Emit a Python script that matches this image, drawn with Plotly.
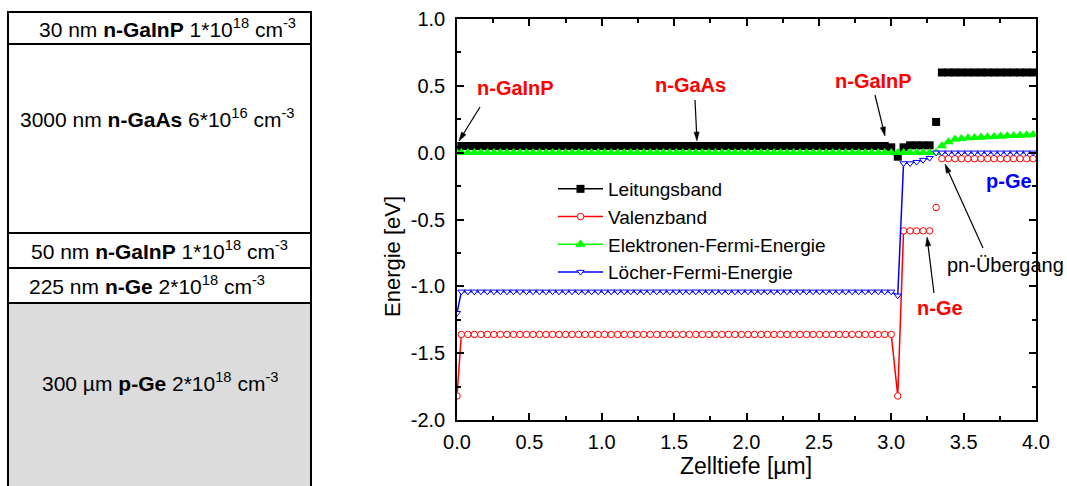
import math
import plotly.graph_objects as go

# ---------------- data ----------------
# depth positions [µm] of the plotted symbols, per layer
depth_front = [0.0]
depth_gaas = [0.03, 0.075, 0.12, 0.165, 0.21, 0.255, 0.3, 0.345, 0.39, 0.435,
              0.48, 0.525, 0.57, 0.615, 0.66, 0.705, 0.75, 0.795, 0.84, 0.885,
              0.93, 0.975, 1.02, 1.065, 1.11, 1.155, 1.2, 1.245, 1.29, 1.335,
              1.38, 1.425, 1.47, 1.515, 1.56, 1.605, 1.65, 1.695, 1.74, 1.785,
              1.83, 1.875, 1.92, 1.965, 2.01, 2.055, 2.1, 2.145, 2.19, 2.235,
              2.28, 2.325, 2.37, 2.415, 2.46, 2.505, 2.55, 2.595, 2.64, 2.685,
              2.73, 2.775, 2.82, 2.865, 2.91, 2.955, 3.0]
depth_window = [3.045]
depth_nge = [3.085, 3.13, 3.175, 3.22, 3.265]
depth_junction = [3.31]
depth_pge = [3.35, 3.395, 3.44, 3.485, 3.53, 3.575, 3.62, 3.665, 3.71, 3.755,
             3.8, 3.845, 3.89, 3.935, 3.98]

# Leitungsband [eV]
ec_front = [0.02]
ec_gaas = [0.05, 0.05, 0.05, 0.05, 0.05, 0.05, 0.05, 0.05, 0.05, 0.05,
           0.05, 0.05, 0.05, 0.05, 0.05, 0.05, 0.05, 0.05, 0.05, 0.05,
           0.05, 0.05, 0.05, 0.05, 0.05, 0.05, 0.05, 0.05, 0.05, 0.05,
           0.05, 0.05, 0.05, 0.05, 0.05, 0.05, 0.05, 0.05, 0.05, 0.05,
           0.05, 0.05, 0.05, 0.05, 0.05, 0.05, 0.05, 0.05, 0.05, 0.05,
           0.05, 0.05, 0.05, 0.05, 0.05, 0.05, 0.05, 0.05, 0.05, 0.05,
           0.05, 0.05, 0.05, 0.05, 0.05, 0.05, 0.04]
ec_window = [-0.03]
ec_nge = [0.04, 0.055, 0.055, 0.055, 0.055]
ec_junction = [0.23]
ec_pge = [0.6, 0.6, 0.6, 0.6, 0.6, 0.6, 0.6, 0.6, 0.6, 0.6,
          0.6, 0.6, 0.6, 0.6, 0.6]

# Valenzband [eV]
ev_front = [-1.82]
ev_gaas = [-1.36, -1.36, -1.36, -1.36, -1.36, -1.36, -1.36, -1.36, -1.36, -1.36,
           -1.36, -1.36, -1.36, -1.36, -1.36, -1.36, -1.36, -1.36, -1.36, -1.36,
           -1.36, -1.36, -1.36, -1.36, -1.36, -1.36, -1.36, -1.36, -1.36, -1.36,
           -1.36, -1.36, -1.36, -1.36, -1.36, -1.36, -1.36, -1.36, -1.36, -1.36,
           -1.36, -1.36, -1.36, -1.36, -1.36, -1.36, -1.36, -1.36, -1.36, -1.36,
           -1.36, -1.36, -1.36, -1.36, -1.36, -1.36, -1.36, -1.36, -1.36, -1.36,
           -1.36, -1.36, -1.36, -1.36, -1.36, -1.36, -1.36]
ev_window = [-1.82]
ev_nge = [-0.585, -0.585, -0.585, -0.585, -0.585]
ev_junction = [-0.41]
ev_pge = [-0.045, -0.045, -0.045, -0.045, -0.045, -0.045, -0.045, -0.045,
          -0.045, -0.045, -0.045, -0.045, -0.045, -0.045, -0.045]

# Elektronen-Fermi-Energie [eV]
efn_front = [0.0]
efn_gaas = [0.0, 0.0, 0.0, 0.0, 0.0, 0.0, 0.0, 0.0, 0.0, 0.0,
            0.0, 0.0, 0.0, 0.0, 0.0, 0.0, 0.0, 0.0, 0.0, 0.0,
            0.0, 0.0, 0.0, 0.0, 0.0, 0.0, 0.0, 0.0, 0.0, 0.0,
            0.0, 0.0, 0.0, 0.0, 0.0, 0.0, 0.0, 0.0, 0.0, 0.0,
            0.0, 0.0, 0.0, 0.0, 0.0, 0.0, 0.0, 0.0, 0.0, 0.0,
            0.0, 0.0, 0.0, 0.0, 0.0, 0.0, 0.0, 0.0, 0.0, 0.0,
            0.0, 0.0, 0.0, 0.0, 0.0, 0.0, 0.0]
efn_window = [0.0]
efn_nge = [0.0, 0.0, 0.0, 0.0, 0.0]
efn_junction = [0.0]
efn_pge = [0.05, 0.08, 0.1, 0.105, 0.11, 0.112, 0.115, 0.118, 0.12, 0.122,
           0.125, 0.127, 0.13, 0.132, 0.135]

# Löcher-Fermi-Energie [eV]
efp_front = [-1.2]
efp_gaas = [-1.04, -1.04, -1.04, -1.04, -1.04, -1.04, -1.04, -1.04, -1.04, -1.04,
            -1.04, -1.04, -1.04, -1.04, -1.04, -1.04, -1.04, -1.04, -1.04, -1.04,
            -1.04, -1.04, -1.04, -1.04, -1.04, -1.04, -1.04, -1.04, -1.04, -1.04,
            -1.04, -1.04, -1.04, -1.04, -1.04, -1.04, -1.04, -1.04, -1.04, -1.04,
            -1.04, -1.04, -1.04, -1.04, -1.04, -1.04, -1.04, -1.04, -1.04, -1.04,
            -1.04, -1.04, -1.04, -1.04, -1.04, -1.04, -1.04, -1.04, -1.04, -1.04,
            -1.04, -1.04, -1.04, -1.04, -1.04, -1.04, -1.04]
efp_window = [-1.07]
efp_nge = [-0.08, -0.08, -0.07, -0.055, -0.04]
efp_junction = [0.0]
efp_pge = [0.0, 0.0, 0.0, 0.0, 0.0, 0.0, 0.0, 0.0, 0.0, 0.0,
           0.0, 0.0, 0.0, 0.0, 0.0]

series_names = ["Leitungsband", "Valenzband",
                "Elektronen-Fermi-Energie", "Löcher-Fermi-Energie"]

x_ticks = [0.0, 0.5, 1.0, 1.5, 2.0, 2.5, 3.0, 3.5, 4.0]
y_ticks = [-2.0, -1.5, -1.0, -0.5, 0.0, 0.5, 1.0]

layer_rows = [
    "30 nm <b>n-GaInP</b> 1*10<sup>18</sup> cm<sup>-3</sup>",
    "3000 nm <b>n-GaAs</b> 6*10<sup>16</sup> cm<sup>-3</sup>",
    "50 nm <b>n-GaInP</b> 1*10<sup>18</sup> cm<sup>-3</sup>",
    "225 nm <b>n-Ge</b> 2*10<sup>18</sup> cm<sup>-3</sup>",
    "300 µm <b>p-Ge</b> 2*10<sup>18</sup> cm<sup>-3</sup>",
]

# ---------------- assemble ----------------
# front part (surface .. n-Ge) is one connected curve, the p-Ge part another;
# the single junction point only shows its symbol.
depth_top = depth_front + depth_gaas + depth_window + depth_nge
bands = [
    (ec_front + ec_gaas + ec_window + ec_nge, ec_junction, ec_pge),
    (ev_front + ev_gaas + ev_window + ev_nge, ev_junction, ev_pge),
    (efn_front + efn_gaas + efn_window + efn_nge, efn_junction, efn_pge),
    (efp_front + efp_gaas + efp_window + efp_nge, efp_junction, efp_pge),
]

W, H = 1067, 486
ML, MR, MT, MB = 457, 31, 19, 66
PW, PH = W - ML - MR, H - MT - MB
FONT = "Liberation Sans, Arial, sans-serif"


def px(x):
    """pixel column -> paper x"""
    return (x - ML) / PW


def py(y):
    """pixel row -> paper y"""
    return (H - MB - y) / PH


fig = go.Figure()

# (line colour, symbol, size, fill colour, outline width)
styles = [
    ("#000000", "square", 8, "#000000", 0),
    ("#ff0000", "circle", 6.5, "#ffffff", 1),
    ("#00ff00", "triangle-up", 9.5, "#00ff00", 0),
    ("#0000ff", "triangle-down", 6.3, "#ffffff", 1),
]
for (top, junc, pge), (col, sym, sz, fill, mlw), name in zip(bands, styles, series_names):
    mk = dict(symbol=sym, size=sz, color=fill, line=dict(color=col, width=mlw))
    ln = dict(color=col, width=1.5)
    fig.add_trace(go.Scatter(x=depth_top, y=top, name=name, legendgroup=name,
                             mode="lines+markers", line=ln, marker=mk))
    fig.add_trace(go.Scatter(x=depth_junction, y=junc, name=name, legendgroup=name,
                             mode="markers", marker=mk, showlegend=False))
    fig.add_trace(go.Scatter(x=depth_pge, y=pge, name=name, legendgroup=name,
                             mode="lines+markers", line=ln, marker=mk,
                             showlegend=False))

axis_common = dict(
    showgrid=False, zeroline=False, showline=True, linecolor="black",
    linewidth=1.5, mirror="allticks", ticks="inside", ticklen=7,
    tickwidth=1.5, tickcolor="black", automargin=False,
    tickfont=dict(family=FONT, size=20, color="black"),
    minor=dict(ticks="inside", ticklen=4, tickwidth=1.5, tickcolor="black",
               dtick=0.25),
)

fig.update_layout(
    width=W, height=H,
    margin=dict(l=ML, r=MR, t=MT, b=MB, pad=0, autoexpand=False),
    paper_bgcolor="white", plot_bgcolor="white",
    font=dict(family=FONT, size=20, color="black"),
    xaxis=dict(range=[0, 4.0],
               tickvals=x_ticks, ticktext=[f"{v:.1f}" for v in x_ticks],
               ticklabelstandoff=3, **axis_common),
    yaxis=dict(range=[-2.0, 1.0],
               tickvals=y_ticks, ticktext=[f"{v:.1f}" for v in y_ticks],
               ticklabelstandoff=6, **axis_common),
    legend=dict(x=px(553), y=py(170), xanchor="left", yanchor="top",
                bgcolor="rgba(0,0,0,0)", itemwidth=45,
                font=dict(family=FONT, size=19, color="black"),
                tracegroupgap=0),
    showlegend=True,
)

# ---------------- left layer stack panel ----------------
shapes = []
shapes.append(dict(type="rect", xref="paper", yref="paper",
                   x0=px(8), x1=px(311), y0=py(303), y1=py(490),
                   fillcolor="#dcdcdc", line=dict(width=0), layer="below"))
line_style = dict(color="black", width=2)
for yy in [12, 44, 233, 268, 303]:
    shapes.append(dict(type="line", xref="paper", yref="paper",
                       x0=px(7), x1=px(312), y0=py(yy), y1=py(yy), line=line_style))
for xx in [8, 311]:
    shapes.append(dict(type="line", xref="paper", yref="paper",
                       x0=px(xx), x1=px(xx), y0=py(11), y1=py(490), line=line_style))

# pointer arrows (tail pixel, head pixel): thin line + narrow filled head
arrows = [
    ((480, 107), (459, 141)),
    ((695, 100), (697, 141)),
    ((875, 95), (885, 136)),
    ((934, 293), (927, 237)),
    ((983, 248), (945, 164)),
]
HEAD_L, HEAD_W = 9, 2.6
for (tx, ty), (hx, hy) in arrows:
    dx, dy = hx - tx, hy - ty
    d = math.hypot(dx, dy)
    ux, uy = dx / d, dy / d
    bx, by = hx - ux * HEAD_L, hy - uy * HEAD_L
    nx, ny = -uy * HEAD_W, ux * HEAD_W
    shapes.append(dict(type="line", xref="paper", yref="paper",
                       x0=px(tx), y0=py(ty), x1=px(bx + ux * 2), y1=py(by + uy * 2),
                       line=dict(color="black", width=1.2)))
    path = (f"M {px(hx)},{py(hy)} L {px(bx + nx)},{py(by + ny)} "
            f"L {px(bx - nx)},{py(by - ny)} Z")
    shapes.append(dict(type="path", xref="paper", yref="paper", path=path,
                       fillcolor="black", line=dict(color="black", width=0.5)))
fig.update_layout(shapes=shapes)

annotations = []
row_pos = [(167, 28), (157, 118), (159, 250), (147, 285), (160, 382)]
for txt, (cx, cy) in zip(layer_rows, row_pos):
    annotations.append(dict(text=txt, xref="paper", yref="paper",
                            x=px(cx), y=py(cy), xanchor="center", yanchor="middle",
                            showarrow=False,
                            font=dict(family=FONT, size=21, color="black")))

# axis titles
annotations.append(dict(text="Zelltiefe [µm]", xref="paper", yref="paper",
                        x=px(746), y=py(466), xanchor="center", yanchor="middle",
                        showarrow=False, font=dict(family=FONT, size=23, color="black")))
annotations.append(dict(text="Energie [eV]", xref="paper", yref="paper",
                        x=px(392), y=py(257), xanchor="center", yanchor="middle",
                        textangle=-90, showarrow=False,
                        font=dict(family=FONT, size=22, color="black")))

# labels in the diagram
labels = [
    ("<b>n-GaInP</b>", 515, 88, "#ff0000", 20),
    ("<b>n-GaAs</b>", 690, 85, "#ff0000", 20),
    ("<b>n-GaInP</b>", 873, 81, "#ff0000", 20),
    ("<b>n-Ge</b>", 940, 308, "#ff0000", 20),
    ("<b>p-Ge</b>", 1009, 181, "#0000ff", 20),
    ("pn-Übergang", 1005, 265, "#000000", 20),
]
for txt, cx, cy, col, fs in labels:
    annotations.append(dict(text=txt, xref="paper", yref="paper",
                            x=px(cx), y=py(cy), xanchor="center", yanchor="middle",
                            showarrow=False, font=dict(family=FONT, size=fs, color=col)))
fig.update_layout(annotations=annotations)

fig.write_html("out.html")
